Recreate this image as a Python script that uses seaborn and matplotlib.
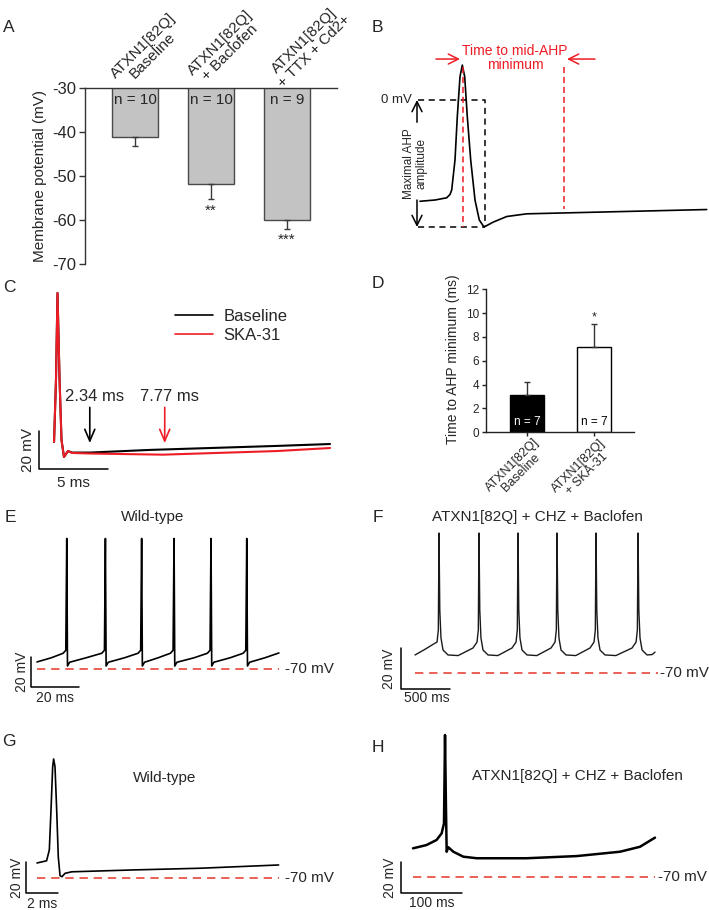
import numpy as np
import pandas as pd
import matplotlib
matplotlib.use('Agg')
import matplotlib.pyplot as plt
import seaborn as sns

# ---------------- data ----------------
# Panel A: membrane potential (mV)
a_groups = ['ATXN1[82Q]\nBaseline', 'ATXN1[82Q]\n+ Baclofen', 'ATXN1[82Q]\n+ TTX + Cd2+']
a_means = [-41.2, -51.8, -60.0]
a_sem = [1.9, 3.4, 2.0]
a_n = ['n = 10', 'n = 10', 'n = 9']
a_sig = ['', '**', '***']
a_ticks = [-30, -40, -50, -60, -70]

# Panel D: time to AHP minimum (ms)
d_groups = ['ATXN1[82Q]\nBaseline', 'ATXN1[82Q]\n+ SKA-31']
d_means = [3.1, 7.15]
d_sem = [1.1, 1.95]
d_n = ['n = 7', 'n = 7']
d_sig = ['', '*']
d_ticks = [0, 2, 4, 6, 8, 10, 12]

# Panel B: schematic action potential (ms, mV)
b_t = [0, 1.5, 2.67, 3.0, 3.17, 3.5, 3.73, 4.0, 4.23, 4.47, 4.73, 5.07, 5.5, 5.93, 6.4, 7.33, 8.67, 10.67, 17.33, 28.67]
b_v = [-63.8, -63.0, -61.6, -59.5, -56.7, -37.8, -10.5, 14.7, 22.0, 14.7, -10.5, -37.8, -63, -75.6, -80, -76.9, -73.4, -71.7, -70.7, -69]

# Panel C: baseline vs SKA-31 (ms, mV)
c_base_t = [-0.25, -0.11, 0.0, 0.15, 0.29, 0.47, 0.76, 1.05, 2.36, 6.70, 15.9, 19.75]
c_base_v = [-59.7, -27.1, 18.7, -27.1, -58.7, -67.6, -64.5, -65.3, -65.3, -63.9, -61.8, -60.8]
c_ska_t = [-0.25, -0.11, 0.0, 0.15, 0.29, 0.47, 0.76, 1.05, 2.36, 7.64, 15.9, 19.75]
c_ska_v = [-59.7, -27.1, 18.7, -27.1, -58.7, -67.6, -64.5, -65.5, -65.8, -66.4, -64.5, -62.9]
c_marks = [2.34, 7.77]
c_mark_labels = ['2.34 ms', '7.77 ms']

# Panel E: wild-type firing (ms, mV)
e_t = [0, 6, 10.9, 12.0, 12.4, 12.7, 13.6,
       20.5, 27.0, 28.1, 28.5, 28.8, 29.7,
       36.5, 42.1, 43.2, 43.6, 43.9, 44.8,
       50.5, 55.6, 56.7, 57.1, 57.4, 58.3,
       65.5, 71.0, 72.1, 72.5, 72.8, 73.7,
       80.5, 85.9, 87.0, 87.4, 87.7, 88.6,
       95.0, 100.8]
e_v = [-65.3, -62.5, -59.5, -57.5, 17, -68, -65.5,
       -62.5, -59.5, -57.5, 17, -68, -65.5,
       -62.5, -59.5, -57.5, 17, -68, -65.5,
       -62.5, -59.5, -57.5, 17, -68, -65.5,
       -62.5, -59.5, -57.5, 17, -68, -65.5,
       -62.5, -59.5, -57.5, 17, -68, -65.5,
       -62.5, -59.3]

# Panel F: ATXN1[82Q] + CHZ + Baclofen firing (ms, mV)
f_t = [0, 100, 185, 225, 238, 245, 253, 265, 286, 337,
       440, 592, 633, 646, 653, 661, 673, 694, 745,
       845, 990, 1031, 1044, 1051, 1059, 1071, 1092, 1143,
       1243, 1388, 1429, 1442, 1449, 1457, 1469, 1490, 1541,
       1641, 1786, 1827, 1840, 1847, 1855, 1867, 1888, 1939,
       2050, 2215, 2256, 2269, 2276, 2284, 2296, 2317, 2368,
       2420, 2449]
f_v = [-61.2, -58.5, -56.0, -54.9, -49.0, -1.7, -39.3, -52.9, -58.8, -61.2,
       -61.5, -57.8, -54.9, -49.0, -1.7, -39.3, -52.9, -58.8, -61.2,
       -61.5, -57.8, -54.9, -49.0, -1.7, -39.3, -52.9, -58.8, -61.2,
       -61.5, -57.8, -54.9, -49.0, -1.7, -39.3, -52.9, -58.8, -61.2,
       -61.5, -57.8, -54.9, -49.0, -1.7, -39.3, -52.9, -58.8, -61.2,
       -61.5, -57.8, -54.9, -49.0, -1.7, -39.3, -52.9, -58.8, -61.2,
       -61.0, -59.8]

# Panel G: wild-type single spike (ms, mV)
g_t = [0, 0.6, 0.77, 0.875, 0.98, 1.04, 1.125, 1.23, 1.33, 1.44, 1.56, 1.75, 2.17, 6.02, 10.2, 15.1]
g_v = [-60.3, -58.9, -51.9, -26.1, 1.8, 6.8, 1.8, -26.1, -56.3, -68.5, -69.2, -67, -66, -64.8, -63.7, -61.6]

# Panel H: ATXN1[82Q] + CHZ + Baclofen single spike (ms, mV)
h_t = [0, 22, 38.7, 47, 50.8, 52.5, 54.1, 55.2, 57.9, 66.1, 82.5, 104.4, 186.4, 268.4, 339.3, 372.1, 396.7]
h_v = [-51.5, -49.4, -46.1, -41.8, -35.4, 21.6, -26.8, -53.7, -50.8, -53.7, -56.9, -57.9, -57.9, -56.5, -53.7, -50.5, -44.6]

# ---------------- style ----------------
sns.set_theme(style='white')
plt.rcParams['font.family'] = ['Liberation Sans', 'DejaVu Sans']
plt.rcParams['axes.unicode_minus'] = False

RED = '#ee1c24'
DRED = '#e8453c'
W, H = 709, 910
fig = plt.figure(figsize=(W / 100, H / 100), dpi=100)


def px_axes(l, t, r, b):
    return fig.add_axes([l / W, 1 - b / H, (r - l) / W, (b - t) / H])


def trace_axes(l, t, r, b, x0, sx, yref, vref, sy):
    ax = px_axes(l, t, r, b)
    ax.set_xlim((l - x0) / sx, (r - x0) / sx)
    ax.set_ylim(vref - (b - yref) / sy, vref + (yref - t) / sy)
    ax.axis('off')
    return ax


def ftext(x, y, s, **kw):
    fig.text(x / W, 1 - y / H, s, **kw)


def scalebar(ax, x, y, dx, dy, xlab, ylab, xlab_pos, ylab_pos, fs=10):
    ax.plot([x, x, x + dx], [y + dy, y, y], color='black', lw=1.1, clip_on=False)
    ax.text(xlab_pos[0], xlab_pos[1], xlab, ha='center', va='center', fontsize=fs)
    ax.text(ylab_pos[0], ylab_pos[1], ylab, ha='center', va='center', fontsize=fs, rotation=90)


def minus70(ax, t0, t1, tlab, fs=11):
    ax.plot([t0, t1], [-70, -70], color=DRED, lw=1.2, dashes=(5, 3.5))
    ax.text(tlab, -70, '-70 mV', ha='left', va='center', fontsize=fs)


# panel letters
for lab, (x, y) in zip('ABCDEFGH', [(9, 27), (377, 27), (9, 287), (378, 284),
                                     (10, 517), (378, 517), (9, 742), (378, 747)]):
    ftext(x, y, lab, ha='center', va='center', fontsize=12.5)

# ---------------- Panel A ----------------
axA = px_axes(85, 88, 337, 264)
dfA = pd.DataFrame({'group': a_groups, 'mean': a_means})
sns.barplot(data=dfA, x='group', y='mean', ax=axA, color='#c3c3c3', edgecolor='#4a4a4a',
            linewidth=1.0, width=0.6, errorbar=None, saturation=1)
axA.errorbar(range(len(a_means)), a_means, yerr=[a_sem, [0] * len(a_sem)], fmt='none',
             ecolor='#3a3a3a', elinewidth=1.0, capsize=2.5, capthick=1.0)
axA.set_xlim(-0.658, 2.658)
axA.set_ylim(-70, -30)
for s in ['right', 'bottom']:
    axA.spines[s].set_visible(False)
for s in ['left', 'top']:
    axA.spines[s].set_color('#333333')
    axA.spines[s].set_linewidth(1.0)
axA.set_yticks(a_ticks)
axA.set_yticklabels([str(v) for v in a_ticks])
axA.tick_params(axis='y', left=True, length=4, width=1, direction='out', labelsize=12, pad=2, color='#333333')
axA.set_xticks([])
axA.set_xlabel('')
axA.set_ylabel('')
ftext(40, 176, 'Membrane potential (mV)', rotation=90, ha='center', va='center', fontsize=11)
for i in range(len(a_means)):
    axA.text(i, -32.8, a_n[i], ha='center', va='center', fontsize=11)
    if a_sig[i]:
        axA.text(i, a_means[i] - a_sem[i] - 2.6, a_sig[i], ha='center', va='center', fontsize=11)
for lab, (x, y) in zip(a_groups, [(148, 51), (225, 48), (309, 46)]):
    ftext(x, y, lab, rotation=45, rotation_mode='anchor', ha='center', va='center',
          multialignment='center', fontsize=11, linespacing=0.95)

# ---------------- Panel B ----------------
axB = trace_axes(360, 40, 709, 240, x0=420, sx=10, yref=100, vref=0, sy=1.5875)
axB.plot([-0.2, 6.5, 6.5], [0, 0, -80], color='black', lw=1.1, dashes=(4, 3))
axB.plot([-0.2, 6.5], [-80, -80], color='black', lw=1.1, dashes=(4, 3))
sns.lineplot(x=b_t, y=b_v, ax=axB, color='black', lw=1.2, sort=False, estimator=None)
axB.plot([4.27, 4.27], [21, -80], color=RED, lw=1.1, dashes=(4, 2.5))
axB.plot([14.4, 14.4], [21, -68.7], color=RED, lw=1.1, dashes=(4, 2.5))
ap = dict(arrowstyle='->,head_length=0.6,head_width=0.3', lw=1.1, shrinkA=0, shrinkB=0)
axB.annotate('', xy=(4.0, 25.8), xytext=(1.6, 25.8), arrowprops=dict(color=RED, **ap))
axB.annotate('', xy=(14.7, 25.8), xytext=(17.5, 25.8), arrowprops=dict(color=RED, **ap))
axB.text(9.5, 26.5, 'Time to mid-AHP\nminimum', color=RED, ha='center', va='center',
         fontsize=10, linespacing=1.0)
axB.text(-0.8, 0, '0 mV', ha='right', va='center', fontsize=9.5)
axB.annotate('', xy=(-0.3, 0), xytext=(-0.3, -14), arrowprops=dict(color='black', **ap))
axB.annotate('', xy=(-0.3, -80), xytext=(-0.3, -63), arrowprops=dict(color='black', **ap))
axB.text(-0.45, -40, 'Maximal AHP\namplitude', rotation=90, ha='center', va='center',
         fontsize=8.5, linespacing=1.0, multialignment='center')

# ---------------- Panel C ----------------
axC = trace_axes(0, 280, 360, 505, x0=57.5, sx=13.8, yref=461.5, vref=-70, sy=1.9)
sns.lineplot(x=c_base_t, y=c_base_v, ax=axC, color='black', lw=1.5, sort=False, estimator=None, label='Baseline')
sns.lineplot(x=c_ska_t, y=c_ska_v, ax=axC, color=RED, lw=1.5, sort=False, estimator=None, label='SKA-31')
for t, lab, col in zip(c_marks, c_mark_labels, ['black', RED]):
    axC.annotate('', xy=(t, -60.3), xytext=(t, -41.5),
                 arrowprops=dict(arrowstyle='->,head_length=0.7,head_width=0.3', color=col, lw=1.2,
                                 shrinkA=0, shrinkB=0))
    axC.text(t + 0.35, -36, lab, ha='center', va='center', fontsize=12)
scalebar(axC, -1.34, -73.9, 5, 20, '5 ms', '20 mV', (1.12, -81.3), (-2.14, -63.9), fs=11)
leg = axC.legend(loc='upper left', bbox_to_anchor=(175 / W, 1 - 309 / H), bbox_transform=fig.transFigure,
                 frameon=False, fontsize=12, handlelength=2.3, handletextpad=0.6, labelspacing=0.25,
                 borderpad=0, borderaxespad=0)
for ln in leg.get_lines():
    ln.set_linewidth(1.2)

# ---------------- Panel D ----------------
axD = px_axes(486, 289.2, 634, 432.3)
dfD = pd.DataFrame({'group': d_groups, 'mean': d_means})
sns.barplot(data=dfD, x='group', y='mean', hue='group', palette=['black', 'white'], ax=axD,
            edgecolor='black', linewidth=1.0, width=0.5, errorbar=None, saturation=1, legend=False)
axD.errorbar(range(len(d_means)), d_means, yerr=[[0] * len(d_sem), d_sem], fmt='none',
             ecolor='#333333', elinewidth=1.0, capsize=2.5, capthick=1.0)
axD.set_xlim(-0.612, 1.597)
axD.set_ylim(0, 12)
for s in ['right', 'top']:
    axD.spines[s].set_visible(False)
for s in ['left', 'bottom']:
    axD.spines[s].set_color('#222222')
    axD.spines[s].set_linewidth(1.0)
axD.set_yticks(d_ticks)
axD.set_yticklabels([str(v) for v in d_ticks])
axD.set_xticks(range(len(d_groups)))
axD.set_xticklabels([])
axD.tick_params(axis='both', left=True, bottom=True, length=3, width=1, direction='out',
                labelsize=8.5, pad=2, color='#222222')
axD.set_xlabel('')
axD.set_ylabel('')
ftext(453, 359, 'Time to AHP minimum (ms)', rotation=90, ha='center', va='center', fontsize=10)
for i in range(len(d_means)):
    axD.text(i, 0.84, d_n[i], ha='center', va='center', fontsize=8.5,
             color='white' if i == 0 else 'black')
    if d_sig[i]:
        axD.text(i, d_means[i] + d_sem[i] + 0.55, d_sig[i], ha='center', va='center', fontsize=9)
for lab, (x, y) in zip(d_groups, [(517, 469), (583, 470)]):
    ftext(x, y, lab, rotation=45, rotation_mode='anchor', ha='center', va='center',
          multialignment='center', fontsize=9, linespacing=1.0)

# ---------------- Panel E ----------------
axE = trace_axes(0, 525, 360, 705, x0=37, sx=2.4, yref=669, vref=-70, sy=1.5)
minus70(axE, 0, 100.8, 103.3)
sns.lineplot(x=e_t, y=e_v, ax=axE, color='black', lw=1.2, sort=False, estimator=None)
scalebar(axE, -2.5, -82, 20, 20, '20 ms', '20 mV', (7.5, -89.3), (-6.25, -72))
axE.text(48.3, 31.3, 'Wild-type', ha='center', va='center', fontsize=11)

# ---------------- Panel F ----------------
axF = trace_axes(360, 525, 709, 705, x0=415, sx=0.098, yref=673, vref=-70, sy=2.05)
minus70(axF, 0, 2480, 2500)
sns.lineplot(x=f_t, y=f_v, ax=axF, color='#1a1a1a', lw=1.0, sort=False, estimator=None)
scalebar(axF, -142.9, -77.8, 500, 20, '500 ms', '20 mV', (122, -82.2), (-265, -67.8))
axF.text(1245, 6.1, 'ATXN1[82Q] + CHZ + Baclofen', ha='center', va='center', fontsize=11)

# ---------------- Panel G ----------------
axG = trace_axes(0, 735, 360, 910, x0=37, sx=16, yref=878, vref=-70, sy=1.55)
minus70(axG, 0, 15.1, 15.5)
sns.lineplot(x=g_t, y=g_v, ax=axG, color='black', lw=1.2, sort=False, estimator=None)
scalebar(axG, -0.69, -79.7, 2, 20, '2 ms', '20 mV', (0.31, -86.8), (-1.25, -69.7))
axG.text(8, -5.5, 'Wild-type', ha='center', va='center', fontsize=11)

# ---------------- Panel H ----------------
axH = trace_axes(360, 730, 709, 910, x0=413, sx=0.61, yref=877, vref=-70, sy=1.55)
minus70(axH, 0, 396.7, 401.6)
sns.lineplot(x=h_t, y=h_v, ax=axH, color='black', lw=1.8, sort=False, estimator=None)
scalebar(axH, -19.7, -80.3, 100, 20, '100 ms', '20 mV', (31, -86.8), (-37.7, -70.3))
axH.text(268.9, -4.8, 'ATXN1[82Q] + CHZ + Baclofen', ha='center', va='center', fontsize=11)

fig.savefig('out.png', dpi=100)
